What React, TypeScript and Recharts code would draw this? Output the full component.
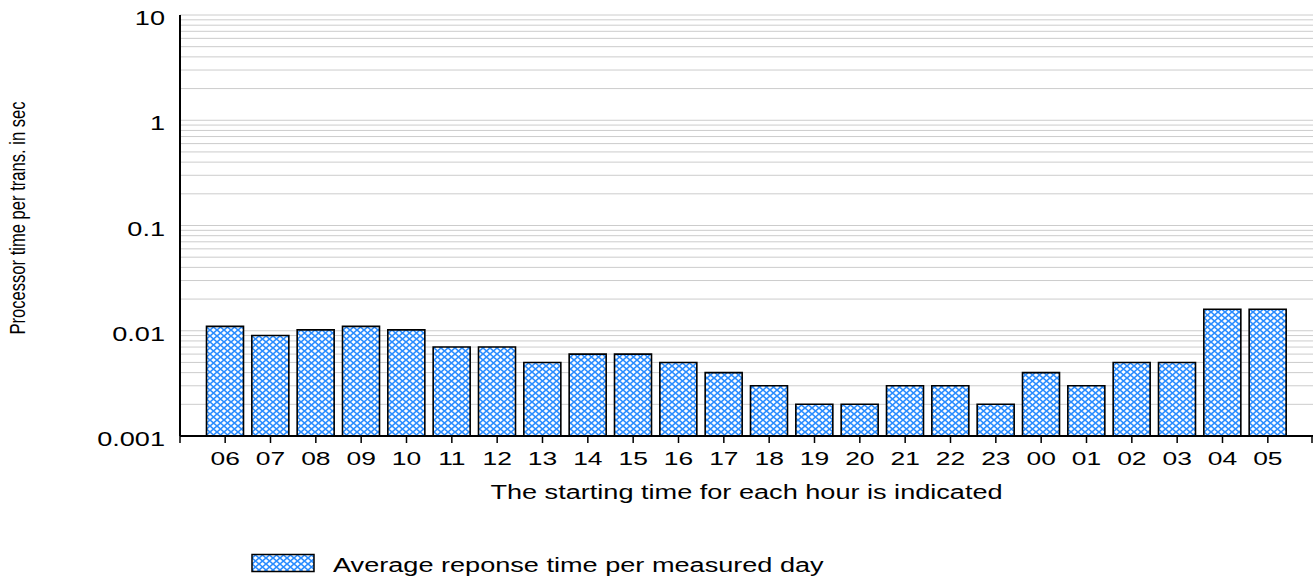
import React from 'react';
import { BarChart, Bar, XAxis, YAxis, CartesianGrid } from 'recharts';

// hour of day each bar starts at
const hours = ['06', '07', '08', '09', '10', '11', '12', '13', '14', '15', '16', '17',
  '18', '19', '20', '21', '22', '23', '00', '01', '02', '03', '04', '05'];

// processor time per transaction, seconds
const avgResponse = [0.011, 0.009, 0.0102, 0.011, 0.0102, 0.007, 0.007, 0.005, 0.006, 0.006, 0.005, 0.004,
  0.003, 0.002, 0.002, 0.003, 0.003, 0.002, 0.004, 0.003, 0.005, 0.005, 0.016, 0.016];

const decades = [0.001, 0.01, 0.1, 1, 10];
const decadeLabels = ['0.001', '0.01', '0.1', '1', '10'];

const seriesName = 'Average reponse time per measured day';
const xTitle = 'The starting time for each hour is indicated';
const yTitle = 'Processor time per trans. in sec';

const data = hours.map((hour, i) => ({ hour, value: avgResponse[i] }));

// one grid line at every 1..9 step inside each decade
const gridTicks = decades.flatMap((d, i) =>
  i === decades.length - 1 ? [d] : [1, 2, 3, 4, 5, 6, 7, 8, 9].map((k) => +(k * d).toPrecision(3))
);

const W = 1314;
const H = 578;
const PLOT_LEFT = 180;
const PLOT_RIGHT = 1313;
const PLOT_TOP = 15;
const PLOT_BOTTOM = 436;
const X_AXIS_H = 60;

const FONT = '"Liberation Sans", Arial, sans-serif';
const FS = 19.5;
const STRETCH = 'scale(1.39,1)';
const BLUE = '#2a8cff';

const HatchDef = ({ id }: { id: string }) => (
  <defs>
    <pattern id={id} width={7} height={6} patternUnits="userSpaceOnUse">
      <rect width={7} height={6} fill="#ffffff" />
      <path d="M0,0 L7,6 M7,0 L0,6" stroke={BLUE} strokeWidth={1.6} />
    </pattern>
  </defs>
);

const YTick = (props: any) => {
  const { y, payload } = props;
  const idx = decades.indexOf(payload.value);
  if (idx < 0) return null;
  return (
    <g transform={`translate(${PLOT_LEFT - 15},${y + 10})`}>
      <text transform={STRETCH} textAnchor="end" fontSize={FS} fontFamily={FONT} fill="#000">
        {decadeLabels[idx]}
      </text>
    </g>
  );
};

const XTick = (props: any) => {
  const { x, payload } = props;
  return (
    <g transform={`translate(${x},${PLOT_BOTTOM + 29})`}>
      <text transform={STRETCH} textAnchor="middle" fontSize={19} fontFamily={FONT} fill="#000">
        {payload.value}
      </text>
    </g>
  );
};

export default function App() {
  return (
    <div style={{ position: 'absolute', left: 0, top: 0, width: W, height: H, background: '#fff' }}>
      <BarChart
        width={W}
        height={H}
        data={data}
        margin={{ top: PLOT_TOP, right: W - PLOT_RIGHT, bottom: H - PLOT_BOTTOM - X_AXIS_H, left: 0 }}
        barSize={37}
      >
        <HatchDef id="xhatch" />
        <CartesianGrid vertical={false} stroke="#cccccc" strokeWidth={1} />
        <XAxis
          dataKey="hour"
          height={X_AXIS_H}
          padding={{ left: 22.5, right: 22.5 }}
          axisLine={{ stroke: '#000', strokeWidth: 2 }}
          tickLine={{ stroke: '#000', strokeWidth: 1.5 }}
          tickSize={7}
          interval={0}
          tick={<XTick />}
        />
        <YAxis
          scale="log"
          domain={[0.001, 10]}
          allowDataOverflow
          ticks={gridTicks}
          interval={0}
          width={PLOT_LEFT}
          axisLine={{ stroke: '#000', strokeWidth: 2 }}
          tickLine={false}
          tick={<YTick />}
        />
        <Bar
          dataKey="value"
          name={seriesName}
          fill="url(#xhatch)"
          stroke="#000"
          strokeWidth={1.6}
          isAnimationActive={false}
        />
      </BarChart>
      <svg
        width={W}
        height={H}
        style={{ position: 'absolute', left: 0, top: 0, pointerEvents: 'none' }}
      >
        <HatchDef id="xhatch-legend" />
        {/* end ticks of the category axis */}
        <line x1={PLOT_LEFT} x2={PLOT_LEFT} y1={PLOT_BOTTOM} y2={PLOT_BOTTOM + 7} stroke="#000" strokeWidth={1.5} />
        <line x1={PLOT_RIGHT - 1} x2={PLOT_RIGHT - 1} y1={PLOT_BOTTOM} y2={PLOT_BOTTOM + 7} stroke="#000" strokeWidth={1.5} />
        <g transform="translate(25,218) scale(1.36,1) rotate(-90)">
          <text textAnchor="middle" fontSize={16.6} fontFamily={FONT} fill="#000">{yTitle}</text>
        </g>
        <g transform={`translate(${(PLOT_LEFT + PLOT_RIGHT) / 2},499)`}>
          <text transform={STRETCH} textAnchor="middle" fontSize={FS} fontFamily={FONT} fill="#000">{xTitle}</text>
        </g>
        <rect x={252} y={554.5} width={62} height={17} fill="url(#xhatch-legend)" stroke="#000" strokeWidth={1.5} />
        <g transform="translate(333,572)">
          <text transform={STRETCH} fontSize={FS} fontFamily={FONT} fill="#000">{seriesName}</text>
        </g>
      </svg>
    </div>
  );
}
